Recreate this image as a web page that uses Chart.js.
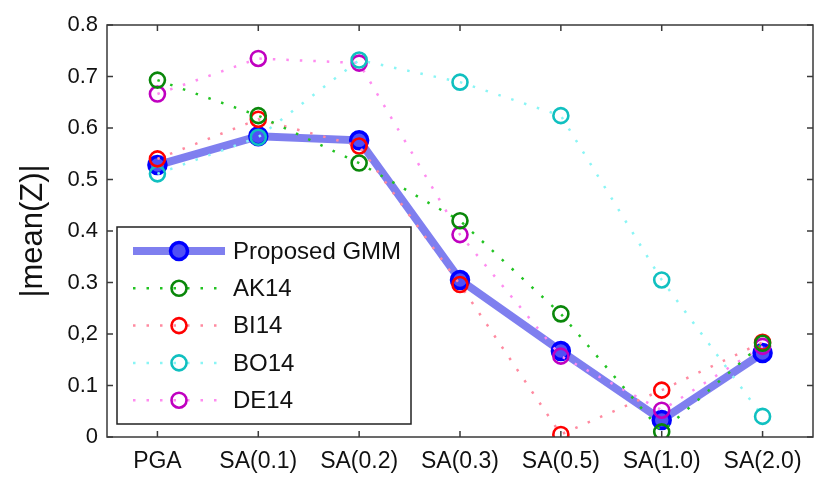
<!DOCTYPE html>
<html>
<head>
<meta charset="utf-8">
<script src="https://cdn.jsdelivr.net/npm/chart.js@4.4.1/dist/chart.umd.min.js"></script>
<style>
  html, body { margin: 0; padding: 0; background: #ffffff; }
  #wrap { width: 825px; height: 490px; }
</style>
</head>
<body>
<div id="wrap"><canvas id="c" width="825" height="490"></canvas></div>
<script>
// Intensity measures along the x axis
const categories = ['PGA', 'SA(0.1)', 'SA(0.2)', 'SA(0.3)', 'SA(0.5)', 'SA(1.0)', 'SA(2.0)'];

// |mean(Z)| per model
const proposedGMM = [0.528, 0.584, 0.576, 0.305, 0.167, 0.033, 0.163];
const ak14 = [0.693, 0.624, 0.532, 0.420, 0.239, 0.010, 0.182];
const bi14 = [0.540, 0.617, 0.565, 0.296, 0.005, 0.091, 0.184];
const bo14 = [0.511, 0.582, 0.732, 0.689, 0.624, 0.305, 0.040];
const de14 = [0.666, 0.735, 0.726, 0.393, 0.157, 0.052, 0.176];

// y axis labels, bottom to top
const yTickLabels = ['0', '0.1', '0,2', '0.3', '0.4', '0.5', '0.6', '0.7', '0.8'];

const FONT = 'Liberation Sans, Arial, Helvetica, sans-serif';

function openCircles(lineColor, markerColor) {
  return {
    borderColor: lineColor,
    borderWidth: 2.5,
    borderDash: [2.5, 11],
    pointStyle: 'circle',
    pointRadius: 7.5,
    pointHoverRadius: 7.5,
    pointBorderWidth: 2.6,
    pointBorderColor: markerColor,
    pointBackgroundColor: 'rgba(0,0,0,0)',
    fill: false,
    tension: 0
  };
}

// Frame around the plot and inward-pointing tick marks on all four sides
const framePlugin = {
  id: 'frame',
  afterDraw(chart) {
    const { ctx, chartArea: a, scales } = chart;
    ctx.save();
    ctx.strokeStyle = '#3a3a3a';
    ctx.lineWidth = 1.5;
    ctx.strokeRect(a.left, a.top, a.right - a.left, a.bottom - a.top);
    const len = 6;
    ctx.beginPath();
    scales.x.ticks.forEach((t, i) => {
      const px = scales.x.getPixelForTick(i);
      ctx.moveTo(px, a.bottom); ctx.lineTo(px, a.bottom - len);
      ctx.moveTo(px, a.top); ctx.lineTo(px, a.top + len);
    });
    scales.y.ticks.forEach((t, i) => {
      const py = scales.y.getPixelForTick(i);
      ctx.moveTo(a.left, py); ctx.lineTo(a.left + len, py);
      ctx.moveTo(a.right, py); ctx.lineTo(a.right - len, py);
    });
    ctx.stroke();
    ctx.restore();
  }
};

// Boxed legend inside the plot, each entry showing its line and marker
const boxLegendPlugin = {
  id: 'boxLegend',
  afterDraw(chart) {
    const { ctx, chartArea: a } = chart;
    const x0 = a.left + 10, y0 = a.top + 202, w = 294, h = 197;
    ctx.save();
    ctx.fillStyle = '#ffffff';
    ctx.fillRect(x0, y0, w, h);
    ctx.strokeStyle = '#222222';
    ctx.lineWidth = 1.5;
    ctx.strokeRect(x0, y0, w, h);
    const rowH = 37.3;
    chart.data.datasets.forEach((ds, i) => {
      const cy = y0 + 24 + i * rowH;
      const lx0 = x0 + 16, lx1 = x0 + 108, mx = x0 + 62;
      ctx.save();
      ctx.strokeStyle = ds.borderColor;
      ctx.lineWidth = ds.borderWidth;
      ctx.setLineDash(ds.borderDash || []);
      ctx.lineCap = 'butt';
      ctx.beginPath();
      ctx.moveTo(lx0, cy); ctx.lineTo(lx1, cy);
      ctx.stroke();
      ctx.restore();
      ctx.beginPath();
      ctx.arc(mx, cy, ds.pointRadius, 0, Math.PI * 2);
      ctx.fillStyle = ds.pointBackgroundColor;
      ctx.fill();
      ctx.lineWidth = ds.pointBorderWidth;
      ctx.strokeStyle = ds.pointBorderColor;
      ctx.stroke();
      ctx.fillStyle = '#111111';
      ctx.font = '24px ' + FONT;
      ctx.textBaseline = 'middle';
      ctx.textAlign = 'left';
      ctx.fillText(ds.label, x0 + 116, cy + 1);
    });
    ctx.restore();
  }
};

new Chart(document.getElementById('c'), {
  type: 'line',
  data: {
    labels: categories,
    datasets: [
      {
        label: 'Proposed GMM',
        data: proposedGMM,
        borderColor: 'rgba(95,95,235,0.8)',
        borderWidth: 8,
        borderDash: [],
        pointStyle: 'circle',
        pointRadius: 8.5,
        pointHoverRadius: 8.5,
        pointBorderWidth: 3.5,
        pointBorderColor: '#0000ff',
        pointBackgroundColor: '#5050f5',
        fill: false,
        tension: 0,
        order: 5
      },
      Object.assign({ label: 'AK14', data: ak14, order: 1 }, openCircles('#22c322', '#0a870a')),
      Object.assign({ label: 'BI14', data: bi14, order: 2 }, openCircles('#ff8aa0', '#ff0000')),
      Object.assign({ label: 'BO14', data: bo14, order: 3 }, openCircles('#8af5f5', '#10c0c0')),
      Object.assign({ label: 'DE14', data: de14, order: 4 }, openCircles('#ff8cf0', '#c000c0'))
    ]
  },
  options: {
    responsive: false,
    animation: false,
    devicePixelRatio: 1,
    layout: { padding: { top: 25, right: 11, left: 0, bottom: 0 } },
    plugins: {
      legend: { display: false },
      tooltip: { enabled: false }
    },
    scales: {
      x: {
        type: 'category',
        offset: true,
        grid: { display: false, drawTicks: false },
        border: { display: false },
        ticks: { color: '#111111', font: { family: FONT, size: 23 }, padding: 11, maxRotation: 0, autoSkip: false },
        afterFit(scale) { scale.height = 53; }
      },
      y: {
        min: 0,
        max: 0.8,
        grid: { display: false, drawTicks: false },
        border: { display: false },
        ticks: {
          stepSize: 0.1,
          color: '#111111',
          font: { family: FONT, size: 22 },
          padding: 9,
          callback: (v, i) => yTickLabels[i]
        },
        title: {
          display: true,
          text: '|mean(Z)|',
          color: '#111111',
          font: { family: FONT, size: 31 },
          padding: { top: 15, bottom: 0 }
        },
        afterFit(scale) { scale.width = 107; }
      }
    }
  },
  plugins: [framePlugin, boxLegendPlugin]
});
</script>
</body>
</html>
